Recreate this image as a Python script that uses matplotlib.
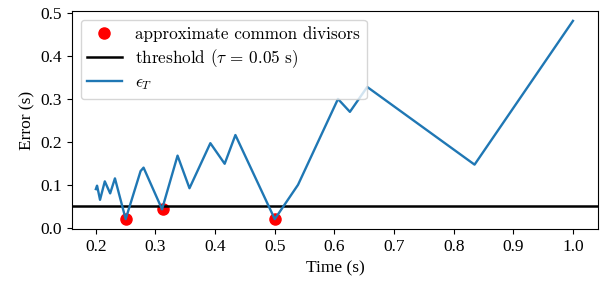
import matplotlib
matplotlib.use("Agg")
import matplotlib.pyplot as plt

# Error curve vertices (period T in s, error in s)
period = [0.200, 0.202, 0.204, 0.207, 0.215, 0.224, 0.232, 0.250, 0.275, 0.280,
          0.311, 0.337, 0.357, 0.392, 0.416, 0.434, 0.500, 0.539, 0.606, 0.626,
          0.655, 0.835, 1.000]
error = [0.090, 0.098, 0.085, 0.065, 0.108, 0.080, 0.115, 0.020, 0.132, 0.140,
         0.043, 0.168, 0.092, 0.197, 0.149, 0.216, 0.020, 0.100, 0.300, 0.270,
         0.328, 0.147, 0.482]

# Approximate common divisors
div_t = [0.250, 0.3125, 0.500]
div_e = [0.020, 0.043, 0.020]

threshold = 0.05

plt.rcParams['font.family'] = ['Liberation Serif', 'DejaVu Serif']
plt.rcParams['mathtext.fontset'] = 'cm'

fig = plt.figure(figsize=(6.07, 2.83), dpi=100)
ax = fig.add_axes([72/607, 1-229/283, (598-72)/607, (229-11)/283])

ax.plot(div_t, div_e, 'o', color='red', markersize=8,
        label='approximate common divisors')
ax.axhline(threshold, color='black', linewidth=1.8,
           label=r'threshold ($\tau$ = 0.05 s)')
ax.plot(period, error, color='#1f77b4', linewidth=1.7, label=r'$\epsilon_T$')

ax.set_xlim(0.16, 1.042)
ax.set_ylim(-0.003, 0.505)
ax.set_xticks([0.2, 0.3, 0.4, 0.5, 0.6, 0.7, 0.8, 0.9, 1.0])
ax.set_yticks([0.0, 0.1, 0.2, 0.3, 0.4, 0.5])
ax.tick_params(labelsize=12.5)
ax.set_xlabel('Time (s)', fontsize=12.5)
ax.set_ylabel('Error (s)', fontsize=12.5)

leg = ax.legend(loc='upper left', prop={'family': ['cmr10', 'DejaVu Serif'], 'size': 12.3},
                framealpha=0.8, labelspacing=0.3, borderaxespad=0.5)
fig.savefig('out.png', dpi=100)
